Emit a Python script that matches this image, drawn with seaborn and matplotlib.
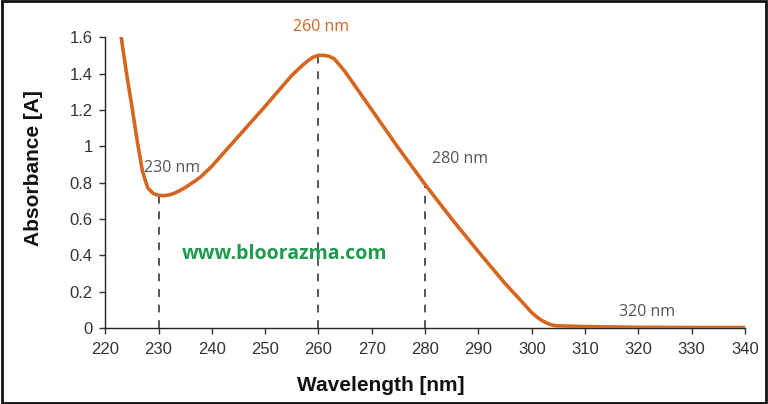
import matplotlib
matplotlib.use("Agg")
import matplotlib.pyplot as plt
import seaborn as sns
import pandas as pd
from matplotlib.patches import Rectangle
from matplotlib.ticker import FuncFormatter

wavelength = [223, 224, 225, 226, 227, 228, 229, 230, 231, 232, 233, 234, 235, 236,
              237, 238, 240, 245, 250, 255, 257, 258, 259, 260, 261, 262, 263, 265,
              270, 275, 280, 285, 290, 295, 298, 300, 301, 302, 303, 304, 305, 310,
              320, 330, 340]
absorbance = [1.60, 1.40, 1.22, 1.03, 0.86, 0.77, 0.74, 0.73, 0.728, 0.732, 0.742,
              0.756, 0.773, 0.792, 0.812, 0.834, 0.89, 1.055, 1.22, 1.39, 1.445, 1.47,
              1.49, 1.50, 1.50, 1.495, 1.48, 1.41, 1.20, 0.99, 0.79, 0.60, 0.42,
              0.245, 0.15, 0.085, 0.06, 0.04, 0.025, 0.015, 0.012, 0.008, 0.004,
              0.003, 0.003]

marker_x = [230, 260, 280]
marker_y = [0.73, 1.50, 0.79]

df = pd.DataFrame({"Wavelength": wavelength, "Absorbance": absorbance})

sns.set_theme(style="white")
plt.rcParams['font.family'] = ['Liberation Sans', 'DejaVu Sans']

fig = plt.figure(figsize=(7.68, 4.04), dpi=100)
ax = fig.add_axes([0.137, 0.188, 0.833, 0.720])

orange = "#D5651F"
for xv, yv in zip(marker_x, marker_y):
    ax.plot([xv, xv], [0, yv], color="#555555", linestyle=(0, (4, 4)), linewidth=1.4, zorder=1)

sns.lineplot(data=df, x="Wavelength", y="Absorbance", ax=ax, color=orange,
             linewidth=2.6, zorder=3)

ax.set_xlim(220, 340)
ax.set_ylim(0, 1.6)
ax.set_xticks(range(220, 341, 10))
ax.set_yticks([0, 0.2, 0.4, 0.6, 0.8, 1.0, 1.2, 1.4, 1.6])
ax.yaxis.set_major_formatter(FuncFormatter(lambda v, p: f"{v:g}"))
ax.tick_params(axis="both", labelsize=12, colors="#333333", length=4, width=1,
               direction="out", bottom=True, left=True)
ax.tick_params(axis="x", pad=6)
ax.tick_params(axis="y", pad=5)
for s in ["top", "right"]:
    ax.spines[s].set_visible(False)
for s in ["left", "bottom"]:
    ax.spines[s].set_color("#222222")
    ax.spines[s].set_linewidth(1.0)

ax.set_xlabel("Wavelength [nm]", fontsize=15, fontweight="bold", color="#111111")
ax.set_ylabel("Absorbance [A]", fontsize=15, fontweight="bold", color="#111111")
ax.xaxis.set_label_coords(0.43, -0.165)
ax.yaxis.set_label_coords(-0.098, 0.55)

ann_font = ['Open Sans', 'DejaVu Sans']
ax.text(260.5, 1.61, "260 nm", color=orange, fontsize=11.5, ha="center", va="bottom",
        family=ann_font)
ax.text(227.3, 0.88, "230 nm", color="#555555", fontsize=11.5, ha="left", va="center",
        family=ann_font)
ax.text(281.3, 0.93, "280 nm", color="#555555", fontsize=11.5, ha="left", va="center",
        family=ann_font)
ax.text(316.3, 0.09, "320 nm", color="#555555", fontsize=11.5, ha="left", va="center",
        family=ann_font)
ax.text(234.3, 0.41, "www.bloorazma.com", color="#1E9A4C", fontsize=14,
        fontweight="bold", ha="left", va="center", family=ann_font)

fig.add_artist(Rectangle((0.002, 0.003), 0.996, 0.994, transform=fig.transFigure,
                         fill=False, edgecolor="#111111", linewidth=2))

fig.savefig("out.png", dpi=100)
